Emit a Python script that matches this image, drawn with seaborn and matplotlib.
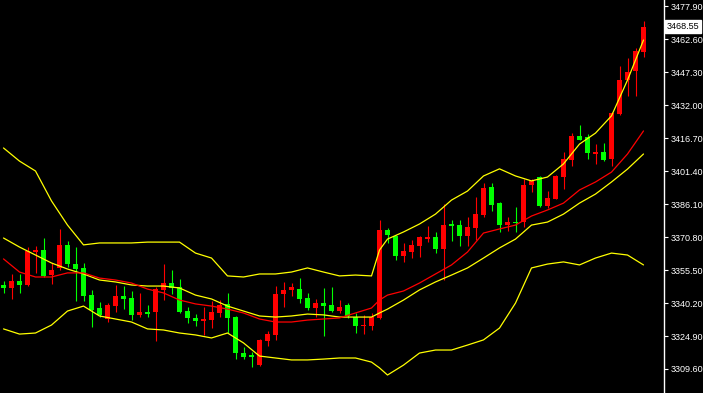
import matplotlib
matplotlib.use("Agg")
import matplotlib.pyplot as plt
import numpy as np
import pandas as pd
import seaborn as sns

# ---- candle data (OHLC) ----
opens = [3348.6, 3347.3, 3350.4, 3348.6, 3363.9, 3364.8, 3353.2, 3356.6, 3367.2, 3358.3,
         3356.5, 3343.9, 3337.9, 3332.8, 3338.8, 3343.5, 3342.5, 3334.7, 3336.0, 3336.0,
         3346.3, 3349.5, 3347.7, 3336.5, 3333.3, 3331.9, 3332.3, 3335.6, 3339.8, 3333.7,
         3317.0, 3316.1, 3311.4, 3322.6, 3325.4, 3344.4, 3346.3, 3346.7, 3342.5, 3337.9,
         3340.2, 3339.3, 3336.5, 3339.3, 3333.7, 3329.5, 3329.5, 3333.3, 3374.1, 3371.3,
         3362.0, 3363.9, 3366.7, 3369.9, 3370.9, 3365.3, 3376.9, 3376.4, 3371.3, 3375.0,
         3381.1, 3394.1, 3386.6, 3376.4, 3377.8, 3377.8, 3395.0, 3398.7, 3385.3, 3388.5,
         3398.7, 3406.6, 3417.7, 3417.3, 3409.4, 3410.3, 3407.1, 3428.0, 3443.7, 3447.9,
         3456.7]
highs = [3350.4, 3353.7, 3353.7, 3366.2, 3366.7, 3370.4, 3358.8, 3374.6, 3369.0, 3366.2,
         3358.8, 3346.3, 3340.7, 3340.2, 3348.6, 3348.1, 3345.8, 3344.9, 3339.3, 3347.7,
         3358.3, 3355.5, 3351.4, 3338.4, 3335.1, 3338.4, 3341.2, 3341.6, 3344.9, 3334.0,
         3319.8, 3317.5, 3323.5, 3327.2, 3348.1, 3350.0, 3349.5, 3351.8, 3344.9, 3342.1,
         3347.2, 3347.7, 3341.6, 3340.2, 3335.6, 3334.7, 3335.6, 3378.8, 3375.0, 3371.8,
         3368.1, 3369.5, 3371.3, 3376.0, 3373.2, 3386.2, 3378.8, 3378.8, 3380.2, 3389.4,
         3395.9, 3395.9, 3387.1, 3380.2, 3384.8, 3397.8, 3397.8, 3399.2, 3392.2, 3399.6,
         3410.3, 3419.1, 3422.9, 3418.7, 3414.0, 3414.5, 3428.9, 3450.2, 3454.0, 3458.6,
         3471.1]
lows = [3345.0, 3342.2, 3345.0, 3348.0, 3354.2, 3352.3, 3349.0, 3355.5, 3356.9, 3341.2,
        3341.2, 3329.1, 3333.7, 3331.4, 3336.0, 3337.4, 3332.3, 3333.7, 3333.7, 3322.6,
        3341.6, 3344.4, 3335.6, 3330.9, 3329.5, 3325.4, 3328.6, 3333.7, 3326.3, 3314.2,
        3314.2, 3310.5, 3311.0, 3320.3, 3323.1, 3338.4, 3343.5, 3340.2, 3337.0, 3333.7,
        3324.9, 3336.0, 3335.6, 3333.3, 3326.3, 3326.0, 3327.7, 3332.8, 3368.1, 3360.2,
        3359.3, 3361.1, 3361.6, 3368.5, 3363.4, 3350.9, 3369.0, 3366.7, 3366.7, 3369.5,
        3380.2, 3382.9, 3373.2, 3373.7, 3373.2, 3375.5, 3391.8, 3384.8, 3384.3, 3388.3,
        3393.1, 3403.8, 3415.7, 3407.1, 3404.8, 3406.1, 3403.8, 3427.5, 3436.3, 3436.3,
        3454.4]
closes = [3347.3, 3350.4, 3348.6, 3364.4, 3364.8, 3352.8, 3355.5, 3367.2, 3358.3, 3356.0,
          3343.5, 3337.0, 3334.7, 3339.3, 3343.5, 3342.1, 3334.7, 3336.0, 3335.1, 3346.7,
          3349.5, 3347.2, 3336.0, 3333.3, 3331.9, 3332.8, 3336.0, 3339.3, 3333.3, 3317.0,
          3315.2, 3315.2, 3323.1, 3325.8, 3344.4, 3346.3, 3347.7, 3342.1, 3337.9, 3340.2,
          3338.8, 3336.5, 3338.4, 3334.2, 3329.5, 3330.0, 3333.7, 3374.1, 3371.8, 3362.0,
          3364.4, 3367.2, 3370.9, 3370.9, 3365.3, 3376.4, 3376.0, 3371.3, 3375.5, 3381.5,
          3393.6, 3385.7, 3376.4, 3377.8, 3377.4, 3395.0, 3396.9, 3385.3, 3389.0, 3399.2,
          3407.1, 3417.7, 3415.9, 3409.9, 3410.3, 3406.6, 3428.4, 3443.7, 3447.5, 3457.2,
          3468.55]

# ---- indicator lines (read at candle indices) ----
band_idx = [0, 2, 4, 6, 8, 10, 12, 14, 16, 18, 20, 22, 24, 26, 28, 30, 32, 34, 36, 38,
            40, 42, 44, 46, 47, 48, 50, 52, 54, 56, 58, 60, 62, 64, 66, 68, 70, 72, 74, 76,
            78, 80]
upper_band = [3412.2, 3406.1, 3401.5, 3387.6, 3376.4, 3367.2, 3368.1, 3368.1, 3368.1, 3368.5,
              3368.5, 3368.5, 3363.4, 3361.1, 3352.8, 3352.3, 3353.7, 3353.7, 3354.6, 3356.5,
              3354.6, 3352.8, 3353.2, 3352.8, 3364.8, 3369.9, 3373.2, 3376.9, 3381.5, 3388.0,
              3392.2, 3399.2, 3402.5, 3399.2, 3396.9, 3398.7, 3404.8, 3414.0, 3419.1, 3427.1,
              3443.7, 3462.3]
middle_band = [3370.4, 3366.2, 3362.5, 3358.8, 3356.0, 3353.7, 3350.9, 3350.0, 3348.6, 3348.1,
               3348.1, 3347.2, 3343.9, 3342.1, 3338.8, 3336.5, 3334.2, 3333.7, 3334.2, 3335.1,
               3334.7, 3333.7, 3333.7, 3333.7, 3335.6, 3337.4, 3341.6, 3346.3, 3350.0, 3353.2,
               3356.5, 3361.1, 3365.8, 3369.9, 3376.4, 3377.8, 3381.5, 3386.6, 3390.8, 3396.4,
               3402.4, 3409.4]
ma_line = [3360.7, 3354.6, 3352.3, 3352.3, 3354.2, 3354.2, 3351.8, 3350.9, 3349.5, 3346.7,
           3344.9, 3341.6, 3339.8, 3338.8, 3337.4, 3335.6, 3332.8, 3331.4, 3331.4, 3332.3,
           3332.8, 3333.3, 3335.6, 3337.9, 3341.6, 3343.9, 3345.8, 3349.5, 3353.7, 3357.9,
           3363.9, 3372.7, 3374.6, 3376.4, 3380.6, 3383.4, 3386.6, 3392.7, 3396.4, 3401.0,
           3409.4, 3420.1]
lower_band = [3328.2, 3325.8, 3326.3, 3330.0, 3336.5, 3338.8, 3334.2, 3332.8, 3331.4, 3328.2,
              3327.7, 3326.3, 3325.4, 3324.0, 3326.3, 3321.7, 3315.6, 3314.7, 3313.8, 3313.8,
              3314.2, 3314.7, 3314.7, 3312.8, 3310.1, 3306.8, 3311.4, 3317.0, 3318.4, 3318.4,
              3320.7, 3323.1, 3328.6, 3340.2, 3356.5, 3358.3, 3359.3, 3357.9, 3361.1, 3363.4,
              3362.5, 3357.9]

tick_values = [3309.60, 3324.90, 3340.20, 3355.50, 3370.80, 3386.10, 3401.40,
               3416.70, 3432.00, 3447.30, 3462.60, 3477.90]
tick_labels = ["3309.60", "3324.90", "3340.20", "3355.50", "3370.80", "3386.10", "3401.40",
               "3416.70", "3432.00", "3447.30", "3462.60", "3477.90"]
last_price = 3468.55
last_label = "3468.55"

# ---- style ----
sns.set_theme(style="dark", rc={"axes.facecolor": "black", "figure.facecolor": "black"})
plt.rcParams['font.family'] = ['Liberation Sans', 'DejaVu Sans']

W, H = 703, 393
fig = plt.figure(figsize=(W / 100, H / 100), dpi=100)
ax = fig.add_axes([0, 0, 664 / W, 1])
ax.set_facecolor("black")

df = pd.DataFrame({"open": opens, "high": highs, "low": lows, "close": closes})
df["idx"] = np.arange(len(df))
up = df["close"] >= df["open"]
colors = np.where(up, "#FF0000", "#00FF00")

# wicks
ax.vlines(df["idx"], df["low"], df["high"], colors=colors, linewidth=0.8, zorder=2)
# bodies
bottom = np.minimum(df["open"], df["close"])
height = np.maximum((df["close"] - df["open"]).abs(), 0.5)
ax.bar(df["idx"], height, bottom=bottom, width=0.64, color=colors,
       edgecolor="none", linewidth=0, zorder=3)

# indicator lines
sns.lineplot(x=band_idx, y=upper_band, ax=ax, color="#FFFF00", linewidth=0.9, zorder=4)
sns.lineplot(x=band_idx, y=middle_band, ax=ax, color="#FFFF00", linewidth=0.9, zorder=4)
sns.lineplot(x=band_idx, y=lower_band, ax=ax, color="#FFFF00", linewidth=0.9, zorder=4)
sns.lineplot(x=band_idx, y=ma_line, ax=ax, color="#FF0000", linewidth=0.9, zorder=4)

ax.set_xlim(-0.4375, -0.4375 + 664 / 8)
ax.set_ylim(3298.45, 3480.88)
ax.grid(False)

# axis styling
for s in ["top", "left", "bottom"]:
    ax.spines[s].set_visible(False)
ax.spines["right"].set_visible(True)
ax.spines["right"].set_color("white")
ax.spines["right"].set_linewidth(1.0)
ax.set_xticks([])
ax.yaxis.tick_right()
ax.set_yticks(tick_values)
ax.set_yticklabels(tick_labels)
ax.tick_params(axis="y", colors="white", length=3, width=0.8, pad=1.5,
               labelsize=6.5, labelcolor="white", right=True, left=False)
ax.set_xlabel("")
ax.set_ylabel("")

# current price marker box
ax.annotate(last_label, xy=(1, last_price), xycoords=("axes fraction", "data"),
            xytext=(2.0, 0), textcoords="offset points", ha="left", va="center",
            fontsize=6.5, color="black", annotation_clip=False,
            bbox=dict(boxstyle="square,pad=0.2", fc="white", ec="white"))

fig.savefig("out.png", dpi=100, facecolor="black")
